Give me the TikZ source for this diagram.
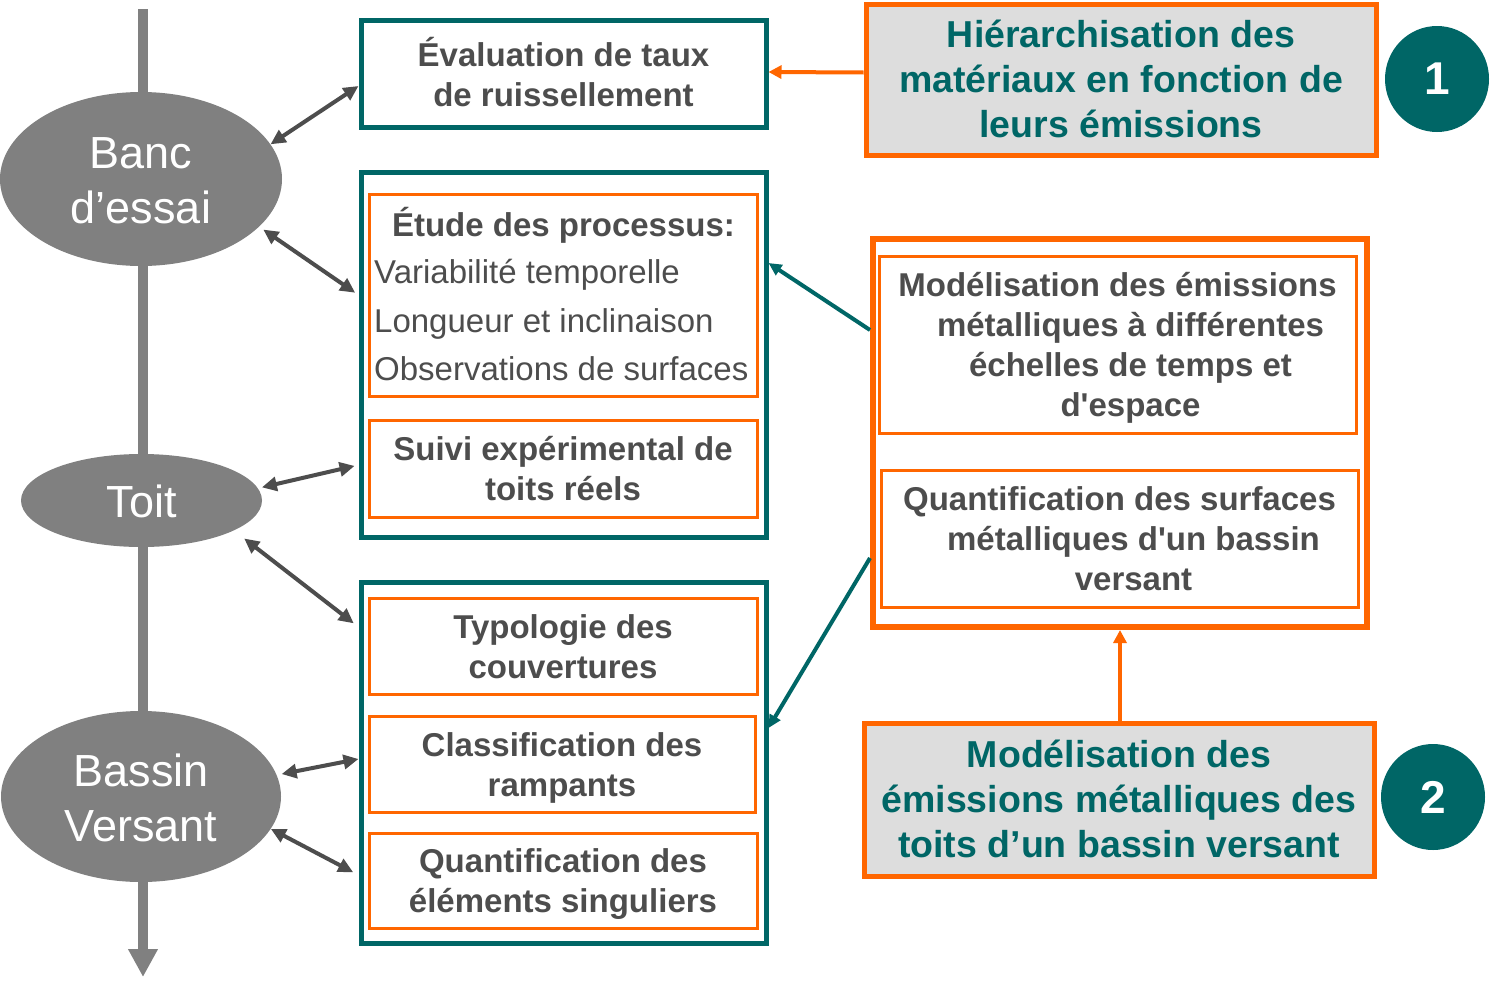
\documentclass[tikz,border=0pt]{standalone}
\usepackage{fontspec}
\setmainfont{Liberation Sans}
\usetikzlibrary{arrows.meta,shapes.geometric,calc}
\definecolor{teal1}{HTML}{006666}
\definecolor{orng}{HTML}{FF6600}
\definecolor{axisgray}{HTML}{808080}
\definecolor{txtgray}{HTML}{4D4D4D}
\definecolor{boxgray}{HTML}{DDDDDD}
\newcommand\topfix{\raisebox{0pt}[\dimexpr0.7\baselineskip+8pt\relax][0pt]{}}
\tikzset{
  stageell/.style={ellipse, fill=axisgray, draw=none, inner sep=0pt},
  stagetxt/.style={text=white, align=center, inner sep=0pt, font=\fontsize{45}{55}\selectfont},
  tealbox/.style={draw=teal1, line width=5pt, fill=white, rectangle, inner sep=0pt, align=center, text=txtgray, font=\fontsize{33}{40}\selectfont\bfseries},
  orbox/.style={draw=orng, line width=3pt, fill=white, rectangle, inner sep=0pt, align=center, text=txtgray, font=\fontsize{33}{40}\selectfont\bfseries},
  bigorbox/.style={draw=orng, line width=6pt, fill=white, rectangle, inner sep=0pt},
  graybox/.style={draw=orng, line width=5pt, fill=boxgray, rectangle, inner sep=0pt, align=center, text=teal1, font=\fontsize{37.5}{45}\selectfont\bfseries},
  numdisc/.style={ellipse, fill=teal1, draw=none, inner sep=0pt, minimum width=104pt, minimum height=106pt, text=white, font=\fontsize{46}{50}\selectfont\bfseries},
  linkarrow/.style={draw=txtgray, line width=4pt, {Triangle[width=14pt,length=15pt]}-{Triangle[width=14pt,length=15pt]}},
  tealarrow/.style={draw=teal1, line width=4pt, -{Triangle[width=12pt,length=13pt]}},
  orarrow/.style={draw=orng, line width=4pt, -{Triangle[width=13pt,length=13pt]}},
  axisline/.style={draw=axisgray, line width=10pt, -{Triangle[width=28pt,length=28pt]}}
}
\begin{document}
\begin{tikzpicture}[x=1pt,y=-1pt]
\useasboundingbox[fill=white] (0,0) rectangle (1493,985);

% vertical axis
\coordinate (axtop) at (143,9);
\coordinate (axbot) at (143,977);
\draw[axisline] (axtop) -- (axbot);

% stages
\node[stageell, minimum width=282pt, minimum height=174pt] (banc) at (141,179) {};
\node[stagetxt] (banctxt) at (141,185) {\strut Banc\\\strut d’essai};
\node[stageell, minimum width=241pt, minimum height=93pt] (toit) at (141.5,500.5) {};
\node[stagetxt] (toittxt) at (141.5,506) {\strut Toit};
\node[stageell, minimum width=280pt, minimum height=171pt] (bassin) at (141,796.5) {};
\node[stagetxt] (bassintxt) at (141,802.5) {\strut Bassin\\\strut Versant};

% left teal boxes
\node[tealbox, minimum width=405pt, minimum height=107pt] (tb1) at (563.5,74) {\topfix Évaluation de taux\\\strut de ruissellement};
\node[tealbox, minimum width=405pt, minimum height=365pt] (tb2) at (563.5,355) {};
\node[tealbox, minimum width=405pt, minimum height=361pt] (tb3) at (563.5,763) {};

\node[orbox, minimum width=388pt, minimum height=202pt] (boxA) at (563,295) {};
\node[text=txtgray, inner sep=0pt, font=\fontsize{33}{40}\selectfont\bfseries] (etitle) at (563.5,227.5) {\strut Étude des processus:};
\node[text=txtgray, inner sep=0pt, anchor=west, align=left, font=\fontsize{33}{48.5}\selectfont] (elist) at (374,322.5) {\strut Variabilité temporelle\\\strut Longueur et inclinaison\\\strut Observations de surfaces};
\node[orbox, minimum width=388pt, minimum height=97pt] (boxB) at (563,468.5) {\topfix Suivi expérimental de\\\strut toits réels};
\node[orbox, minimum width=388pt, minimum height=96pt] (boxC) at (563,646) {\topfix Typologie des\\\strut couvertures};
\node[orbox, minimum width=386pt, minimum height=96pt] (boxD) at (562,764) {\topfix Classification des\\\strut rampants};
\node[orbox, minimum width=388pt, minimum height=95pt] (boxE) at (563,880.5) {\topfix Quantification des\\\strut éléments singuliers};

% right side
\node[graybox, minimum width=510pt, minimum height=151pt] (gray1) at (1121,79.5) {\topfix Hiérarchisation des\\\strut matériaux en fonction de\\\strut leurs émissions};
\node[numdisc] (n1) at (1437,79) {1};

\node[bigorbox, minimum width=494pt, minimum height=388pt] (bigbox) at (1120,433) {};
\node[orbox, minimum width=477pt, minimum height=177pt] (boxF) at (1117.5,344.5) {\topfix Modélisation des émissions\\\hspace*{26pt}\strut métalliques à différentes\\\hspace*{26pt}\strut échelles de temps et\\\hspace*{26pt}\strut d\textquotesingle espace};
\node[orbox, minimum width=477pt, minimum height=137pt] (boxG) at (1119.5,538.5) {\topfix Quantification des surfaces\\\hspace*{28pt}\strut métalliques d\textquotesingle un bassin\\\hspace*{28pt}\strut versant};

\node[graybox, minimum width=510pt, minimum height=153pt] (gray2) at (1119,799.5) {\topfix Modélisation des\\\strut émissions métalliques des\\\strut toits d’un bassin versant};
\node[numdisc] (n2) at (1433,797) {2};

% links stage <-> boxes
\draw[linkarrow] (banc.15) -- ([yshift=-12pt]tb1.west);
\draw[linkarrow, shorten <=5pt, shorten >=4pt] (banc.-22) -- ([yshift=60pt]tb2.west);
\draw[linkarrow, shorten <=4pt, shorten >=4pt] (toit.6) -- ([yshift=-110pt]tb2.west);
\draw[linkarrow, shorten <=13pt, shorten >=6pt] (toit.-18) -- ([yshift=136pt]tb3.west);
\draw[linkarrow, shorten <=5pt] (bassin.9) -- ([yshift=4pt]tb3.west);
\draw[linkarrow, shorten >=6pt] (bassin.-14) -- ([yshift=-112pt]tb3.west);

% teal arrows
\draw[tealarrow] ([yshift=103pt]bigbox.west) -- ([yshift=92pt]tb2.east);
\draw[tealarrow] ([yshift=-125pt]bigbox.west) -- ([yshift=35pt]tb3.east);

% orange arrows
\draw[orarrow] ([yshift=7pt]gray1.west) -- ([yshift=2pt]tb1.east);
\draw[orarrow] ([xshift=1pt]gray2.north) -- (bigbox.south);
\end{tikzpicture}
\end{document}
